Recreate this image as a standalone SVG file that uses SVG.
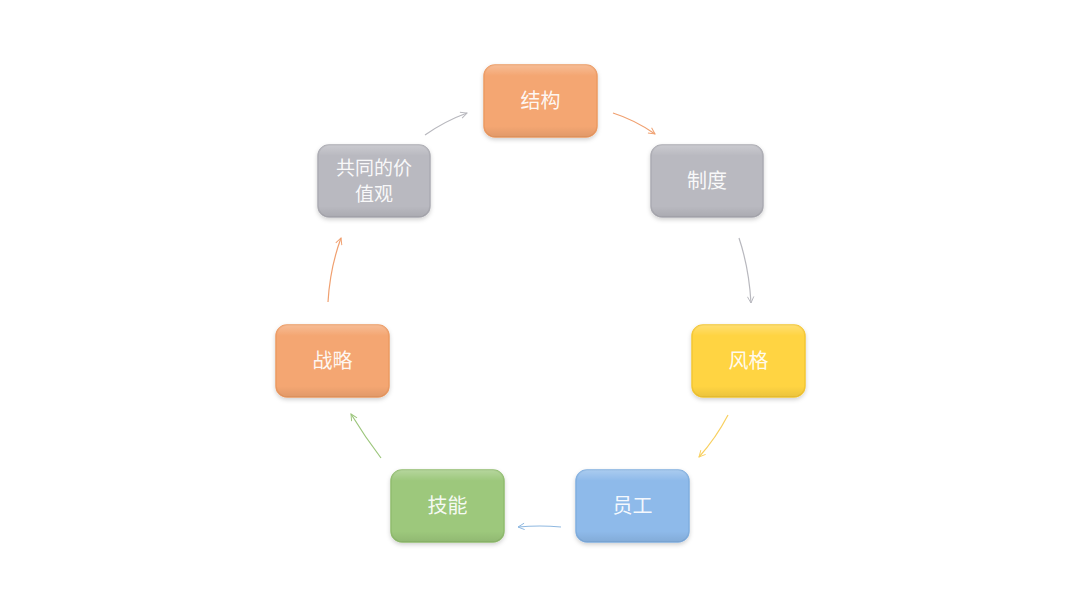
<svg xmlns="http://www.w3.org/2000/svg" width="1080" height="608" viewBox="0 0 1080 608">
<style>
.n{stroke-width:1.5}
.t{font-family:"Noto Sans CJK SC","Noto Sans",sans-serif;font-size:20px;fill:#FFFFFF;fill-opacity:0.92;text-anchor:middle;dominant-baseline:central}
.t2{font-size:19px}
.c{fill:none;stroke-width:1.2}
</style>
<defs>
<filter id="sh" x="-10%" y="-10%" width="120%" height="130%">
<feDropShadow dx="0" dy="2" stdDeviation="2" flood-color="#000" flood-opacity="0.18"/>
</filter>
<linearGradient id="hl" x1="0" y1="0" x2="0" y2="1">
<stop offset="0" stop-color="#fff" stop-opacity="0.25"/>
<stop offset="0.15" stop-color="#fff" stop-opacity="0"/>
<stop offset="0.85" stop-color="#000" stop-opacity="0"/>
<stop offset="1" stop-color="#000" stop-opacity="0.08"/>
</linearGradient>
<marker id="ao" viewBox="0 0 10 10" refX="9" refY="5" markerWidth="8" markerHeight="8" orient="auto" markerUnits="userSpaceOnUse"><path d="M1,1 L9,5 L1,9" fill="none" stroke="#F0A070" stroke-width="1.2"/></marker>
<marker id="ag" viewBox="0 0 10 10" refX="9" refY="5" markerWidth="8" markerHeight="8" orient="auto" markerUnits="userSpaceOnUse"><path d="M1,1 L9,5 L1,9" fill="none" stroke="#B8B8BE" stroke-width="1.2"/></marker>
<marker id="ay" viewBox="0 0 10 10" refX="9" refY="5" markerWidth="8" markerHeight="8" orient="auto" markerUnits="userSpaceOnUse"><path d="M1,1 L9,5 L1,9" fill="none" stroke="#F8D060" stroke-width="1.2"/></marker>
<marker id="ab" viewBox="0 0 10 10" refX="9" refY="5" markerWidth="8" markerHeight="8" orient="auto" markerUnits="userSpaceOnUse"><path d="M1,1 L9,5 L1,9" fill="none" stroke="#8FB8E0" stroke-width="1.2"/></marker>
<marker id="agr" viewBox="0 0 10 10" refX="9" refY="5" markerWidth="8" markerHeight="8" orient="auto" markerUnits="userSpaceOnUse"><path d="M1,1 L9,5 L1,9" fill="none" stroke="#9CC67C" stroke-width="1.2"/></marker>
</defs>
<rect width="1080" height="608" fill="#FFFFFF"/>
<g id="connectors">
<path class="c" d="M613,113 Q635,120 655,134" stroke="#F0A070" marker-end="url(#ao)"/>
<path class="c" d="M739,238 Q749,268 751,303" stroke="#B8B8BE" marker-end="url(#ag)"/>
<path class="c" d="M728,415 Q716,438 699,457" stroke="#F8D060" marker-end="url(#ay)"/>
<path class="c" d="M561,527 Q540,525 518,527" stroke="#8FB8E0" marker-end="url(#ab)"/>
<path class="c" d="M381,458 Q365,437 351,414" stroke="#9CC67C" marker-end="url(#agr)"/>
<path class="c" d="M328,302 Q330,268 341,238" stroke="#F0A070" marker-end="url(#ao)"/>
<path class="c" d="M425,135 Q445,121 467,113" stroke="#B8B8BE" marker-end="url(#ag)"/>
</g>
<g id="n1"><rect class="n" x="484" y="65" width="113" height="72" rx="11" fill="#F4A672" stroke="#EC9A62" filter="url(#sh)"/><rect x="484" y="65" width="113" height="72" rx="11" fill="url(#hl)"/><text class="t" x="540.5" y="99">结构</text></g>
<g id="n2"><rect class="n" x="651" y="145" width="112" height="72" rx="11" fill="#B9B9C0" stroke="#ABABB2" filter="url(#sh)"/><rect x="651" y="145" width="112" height="72" rx="11" fill="url(#hl)"/><text class="t" x="707" y="179">制度</text></g>
<g id="n3"><rect class="n" x="692" y="325" width="113" height="72" rx="11" fill="#FFD443" stroke="#F4C632" filter="url(#sh)"/><rect x="692" y="325" width="113" height="72" rx="11" fill="url(#hl)"/><text class="t" x="748.5" y="359">风格</text></g>
<g id="n4"><rect class="n" x="576" y="470" width="113" height="72" rx="11" fill="#8EBAEA" stroke="#80AEDF" filter="url(#sh)"/><rect x="576" y="470" width="113" height="72" rx="11" fill="url(#hl)"/><text class="t" x="632.5" y="504">员工</text></g>
<g id="n5"><rect class="n" x="391" y="470" width="113" height="72" rx="11" fill="#9DC87C" stroke="#90BC6E" filter="url(#sh)"/><rect x="391" y="470" width="113" height="72" rx="11" fill="url(#hl)"/><text class="t" x="447.5" y="504">技能</text></g>
<g id="n6"><rect class="n" x="276" y="325" width="113" height="72" rx="11" fill="#F4A672" stroke="#EC9A62" filter="url(#sh)"/><rect x="276" y="325" width="113" height="72" rx="11" fill="url(#hl)"/><text class="t" x="332.5" y="359">战略</text></g>
<g id="n7"><rect class="n" x="318" y="145" width="112" height="72" rx="11" fill="#B9B9C0" stroke="#ABABB2" filter="url(#sh)"/><rect x="318" y="145" width="112" height="72" rx="11" fill="url(#hl)"/><text class="t t2" x="374" y="166">共同的价</text><text class="t t2" x="374" y="192">值观</text></g>
</svg>
